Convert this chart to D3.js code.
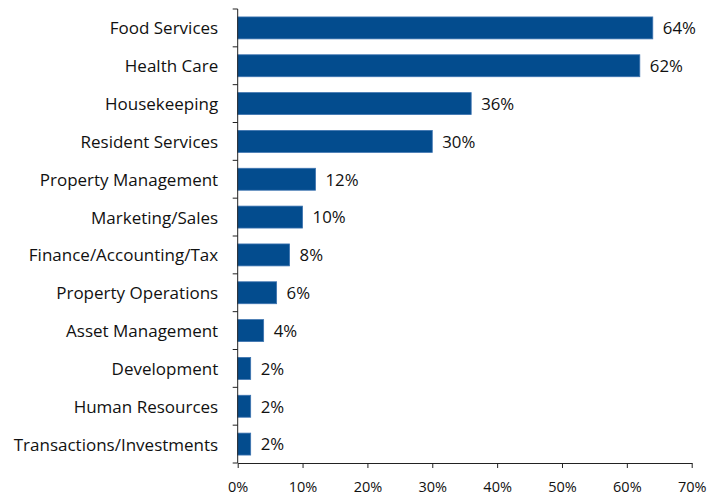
<!DOCTYPE html>
<html>
<head>
<meta charset="utf-8">
<script src="https://cdn.jsdelivr.net/npm/d3@7/dist/d3.min.js"></script>
<style>
  html, body { margin: 0; padding: 0; background: #fff; }
  svg { display: block; }
  text { font-family: "Open Sans", Lato, sans-serif; fill: #111; }
</style>
</head>
<body>
<svg id="chart" width="707" height="495"></svg>
<script>
// Share of respondents by functional area
const categories = [
  "Food Services", "Health Care", "Housekeeping", "Resident Services",
  "Property Management", "Marketing/Sales", "Finance/Accounting/Tax",
  "Property Operations", "Asset Management", "Development",
  "Human Resources", "Transactions/Investments"
];
const values = [64, 62, 36, 30, 12, 10, 8, 6, 4, 2, 2, 2];
const xTicks = [0, 10, 20, 30, 40, 50, 60, 70];

const svg = d3.select("#chart");
const margin = { left: 237.7, right: 15.3, top: 9, bottom: 32 };
const W = 707, H = 495;
const FONT = "'Open Sans', Lato, sans-serif";

const x = d3.scaleLinear().domain([0, 70]).range([margin.left, W - margin.right]);
const y = d3.scaleBand().domain(categories)
  .range([margin.top, H - margin.bottom]).paddingInner(0.42).paddingOuter(0.21);

// Bars
svg.append("g").selectAll("rect").data(values).join("rect")
  .attr("x", x(0))
  .attr("y", (d, i) => y(categories[i]))
  .attr("width", d => x(d) - x(0))
  .attr("height", y.bandwidth())
  .attr("fill", "#034C8E")
  .attr("stroke", "#3d74b0")
  .attr("stroke-width", 0.8);

// Value labels
svg.append("g").selectAll("text").data(values).join("text")
  .attr("x", d => x(d) + 10)
  .attr("y", (d, i) => y(categories[i]) + y.bandwidth() / 2)
  .attr("dy", "0.38em")
  .attr("font-size", 16.8)
  .text(d => d + "%");

// Category axis: line with ticks between categories
const band = (H - margin.bottom - margin.top) / categories.length;
const gy = svg.append("g");
gy.append("line")
  .attr("x1", x(0)).attr("x2", x(0))
  .attr("y1", margin.top).attr("y2", H - margin.bottom)
  .attr("stroke", "#222").attr("stroke-width", 1);
gy.selectAll("line.tick").data(d3.range(categories.length + 1)).join("line")
  .attr("class", "tick")
  .attr("x1", x(0) - 5).attr("x2", x(0))
  .attr("y1", i => margin.top + i * band).attr("y2", i => margin.top + i * band)
  .attr("stroke", "#222").attr("stroke-width", 1);
gy.selectAll("text").data(categories).join("text")
  .attr("x", x(0) - 19.5)
  .attr("y", d => y(d) + y.bandwidth() / 2)
  .attr("dy", "0.38em")
  .attr("text-anchor", "end")
  .attr("font-size", 17)
  .text(d => d);

// Value axis
const gx = svg.append("g").attr("transform", `translate(0,${H - margin.bottom})`)
  .call(d3.axisBottom(x).tickValues(xTicks).tickSize(5).tickSizeOuter(0)
    .tickFormat(d => d + "%"));
gx.select(".domain").attr("stroke", "#222");
gx.selectAll(".tick line").attr("stroke", "#222");
gx.selectAll(".tick text")
  .attr("font-size", 14.5)
  .attr("font-family", FONT)
  .attr("fill", "#111")
  .attr("y", 24)
  .attr("dy", "0.36em");
</script>
</body>
</html>
